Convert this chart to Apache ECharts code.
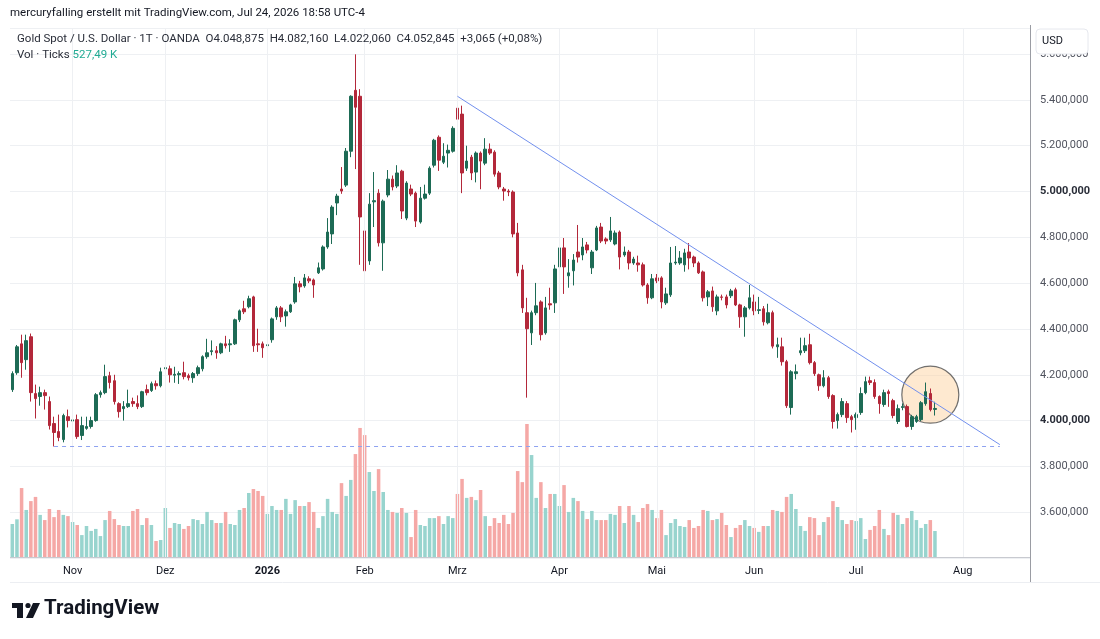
<!DOCTYPE html>
<html>
<head>
<meta charset="utf-8">
<script src="https://cdn.jsdelivr.net/npm/echarts@6/dist/echarts.min.js"></script>
<style>
  html, body { margin: 0; padding: 0; background: #fff; }
  #chart { width: 1100px; height: 639px; }
</style>
</head>
<body>
<div id="chart"></div>
<script>
// daily bars, Oct 15 2025 .. Jul 24 2026 (weekdays, exchange holidays skipped)
const startDate = '2025-10-15'
const slotCount = 220 // 200 bars + empty space to the right
const holidays = ['2025-12-25', '2026-01-01', '2026-04-03']
const monthNames = ['Jan', 'Feb', 'Mrz', 'Apr', 'Mai', 'Jun', 'Jul', 'Aug', 'Sep', 'Okt', 'Nov', 'Dez']

const opens = [
  4135, 4209, 4335, 4266, 4366, 4118, 4105, 4122, 4083, 3987,
  3952, 3917, 4017, 3998, 4004, 3935, 3966, 3974, 4000, 4113,
  4122, 4196, 4174, 4074, 4052, 4061, 4083, 4074, 4061, 4135,
  4131, 4161, 4152, 4226, 4226, 4198, 4200, 4209, 4196, 4187,
  4205, 4226, 4279, 4301, 4305, 4296, 4335, 4331, 4335, 4440,
  4488, 4497, 4540, 4335, 4335, 4327, 4353, 4453, 4492, 4457,
  4475, 4518, 4597, 4588, 4619, 4614, 4645, 4662, 4758, 4815,
  4950, 5011, 5028, 5176, 5442, 5416, 4828, 4697, 4955, 4993,
  4776, 4985, 5054, 5024, 5089, 4884, 5011, 4993, 4867, 4971,
  4993, 5115, 5237, 5128, 5168, 5176, 5364, 5338, 5102, 5150,
  5085, 5168, 5124, 5185, 5172, 5081, 5011, 5002, 4998, 4819,
  4658, 4471, 4383, 4471, 4518, 4383, 4510, 4514, 4671, 4754,
  4632, 4654, 4736, 4723, 4767, 4667, 4745, 4845, 4793, 4789,
  4771, 4823, 4723, 4736, 4688, 4688, 4680, 4592, 4536, 4623,
  4623, 4514, 4549, 4688, 4688, 4680, 4736, 4714, 4688, 4649,
  4540, 4566, 4479, 4540, 4540, 4545, 4571, 4505, 4453, 4492,
  4518, 4481, 4488, 4427, 4471, 4322, 4322, 4257, 4057, 4205,
  4296, 4305, 4331, 4253, 4200, 4152, 4187, 4109, 4000, 4026,
  4074, 4017, 4013, 4035, 4122, 4174, 4166, 4105, 4070, 4126,
  4087, 3996, 4057, 4061, 3974, 3996, 4004, 4074, 4118, 4048.875
]
const closes = [
  4205, 4322, 4253, 4349, 4122, 4096, 4122, 4109, 3978, 3948,
  3926, 4022, 4000, 4003, 3930, 3978, 3974, 4000, 4113, 4122,
  4192, 4166, 4083, 4039, 4061, 4074, 4074, 4061, 4126, 4122,
  4161, 4152, 4213, 4231, 4200, 4202, 4205, 4192, 4187, 4205,
  4231, 4279, 4296, 4305, 4296, 4335, 4327, 4335, 4440, 4479,
  4475, 4532, 4327, 4331, 4318, 4331, 4444, 4492, 4453, 4475,
  4505, 4597, 4584, 4623, 4610, 4592, 4667, 4758, 4823, 4932,
  4980, 5002, 5176, 5416, 5368, 4889, 4654, 4945, 4960, 4776,
  4958, 5054, 5020, 5081, 4915, 5037, 4989, 4871, 4971, 4989,
  5102, 5224, 5137, 5154, 5180, 5276, 5316, 5081, 5133, 5081,
  5168, 5133, 5185, 5168, 5076, 5020, 5002, 4998, 4815, 4645,
  4492, 4401, 4471, 4501, 4375, 4492, 4505, 4662, 4754, 4671,
  4645, 4701, 4714, 4758, 4745, 4736, 4841, 4784, 4784, 4828,
  4819, 4714, 4736, 4688, 4705, 4680, 4592, 4536, 4619, 4610,
  4518, 4553, 4688, 4692, 4710, 4732, 4710, 4688, 4645, 4536,
  4562, 4497, 4540, 4538, 4505, 4566, 4505, 4453, 4492, 4536,
  4479, 4484, 4431, 4471, 4325, 4331, 4257, 4065, 4213, 4213,
  4305, 4327, 4253, 4205, 4152, 4187, 4105, 3996, 4026, 4083,
  4013, 4004, 4026, 4118, 4170, 4166, 4105, 4074, 4122, 4118,
  4022, 4052, 4061, 3974, 4017, 4017, 4078, 4126, 4048, 4052.845
]
const lows = [
  4125, 4200, 4187, 4222, 4083, 4009, 4065, 4048, 3961, 3887,
  3910, 3905, 3970, 3961, 3920, 3915, 3960, 3965, 3995, 4100,
  4115, 4140, 4070, 4013, 4000, 4055, 4060, 4050, 4055, 4110,
  4125, 4135, 4145, 4205, 4166, 4165, 4160, 4180, 4175, 4165,
  4195, 4215, 4270, 4285, 4270, 4290, 4315, 4300, 4330, 4430,
  4465, 4490, 4300, 4300, 4274, 4315, 4340, 4440, 4430, 4410,
  4470, 4510, 4560, 4580, 4600, 4536, 4640, 4655, 4750, 4771,
  4897, 4990, 5020, 5150, 5098, 4680, 4405, 4680, 4845, 4760,
  4654, 4975, 5005, 5015, 4880, 4875, 4980, 4845, 4860, 4965,
  4985, 5105, 5090, 5120, 5105, 5170, 5290, 4993, 5090, 5050,
  5040, 5010, 5115, 5160, 5065, 5010, 4960, 4980, 4800, 4630,
  4470, 4100, 4330, 4460, 4350, 4375, 4484, 4470, 4665, 4553,
  4580, 4590, 4690, 4700, 4730, 4640, 4740, 4775, 4770, 4780,
  4765, 4660, 4715, 4660, 4680, 4650, 4585, 4510, 4530, 4600,
  4490, 4505, 4540, 4680, 4680, 4650, 4660, 4670, 4640, 4520,
  4500, 4475, 4460, 4525, 4490, 4535, 4500, 4405, 4366, 4485,
  4460, 4465, 4415, 4420, 4315, 4274, 4240, 4055, 4026, 4180,
  4285, 4295, 4245, 4195, 4130, 4145, 4095, 3965, 3965, 4015,
  3990, 3948, 3960, 4025, 4115, 4155, 4095, 4030, 4060, 4060,
  4010, 3985, 4045, 3970, 3960, 3990, 3998, 4065, 4040, 4022.06
]
const highs = [
  4215, 4330, 4375, 4375, 4380, 4157, 4148, 4135, 4105, 4017,
  4026, 4030, 4048, 4039, 4026, 4017, 4017, 4017, 4120, 4131,
  4244, 4213, 4200, 4080, 4085, 4135, 4100, 4110, 4130, 4157,
  4170, 4175, 4231, 4266, 4240, 4235, 4215, 4257, 4205, 4212,
  4240, 4285, 4357, 4350, 4325, 4340, 4370, 4355, 4445, 4485,
  4523, 4545, 4545, 4401, 4345, 4401, 4450, 4500, 4500, 4485,
  4510, 4627, 4610, 4640, 4630, 4620, 4690, 4765, 4884, 4940,
  4990, 5107, 5190, 5420, 5599, 5447, 4884, 4993, 5085, 5010,
  4965, 5094, 5070, 5115, 5095, 5045, 5030, 5000, 5020, 5030,
  5110, 5230, 5245, 5211, 5205, 5285, 5416, 5375, 5200, 5160,
  5175, 5175, 5233, 5210, 5180, 5090, 5020, 5010, 5005, 4863,
  4680, 4536, 4480, 4601, 4525, 4540, 4580, 4680, 4789, 4797,
  4705, 4727, 4854, 4797, 4780, 4745, 4850, 4863, 4800, 4889,
  4830, 4830, 4760, 4745, 4715, 4720, 4690, 4600, 4640, 4640,
  4630, 4580, 4758, 4762, 4740, 4750, 4775, 4720, 4695, 4655,
  4570, 4585, 4550, 4550, 4550, 4575, 4580, 4510, 4500, 4592,
  4550, 4540, 4500, 4510, 4480, 4362, 4362, 4265, 4220, 4245,
  4362, 4362, 4379, 4260, 4205, 4220, 4195, 4115, 4035, 4098,
  4085, 4025, 4035, 4145, 4192, 4192, 4180, 4110, 4135, 4135,
  4095, 4070, 4075, 4070, 4025, 4025, 4085, 4166, 4140, 4082.16
]
// tick volume, thousands
const volumes = [
  670, 765, 1400, 955, 1135, 1220, 855, 750, 975, 810,
  955, 855, 830, 710, 650, 445, 630, 530, 570, 425,
  750, 935, 770, 650, 630, 630, 935, 975, 650, 790,
  650, 325, 345, 995, 590, 690, 670, 570, 630, 770,
  750, 670, 915, 750, 690, 690, 915, 670, 650, 955,
  995, 1300, 1380, 1340, 1240, 875, 1035, 955, 955, 1180,
  875, 1155, 1035, 1035, 1115, 915, 590, 830, 1180, 915,
  875, 1500, 1240, 1565, 2090, 2620, 2475, 1725, 1340, 1785,
  1320, 955, 915, 895, 995, 895, 405, 955, 650, 630,
  790, 790, 830, 670, 830, 790, 1280, 1585, 1200, 1220,
  1155, 1360, 830, 630, 790, 690, 855, 670, 895, 1745,
  1520, 2700, 2070, 1200, 1520, 995, 1280, 1280, 1035, 1460,
  915, 1200, 1135, 935, 770, 935, 750, 750, 750, 875,
  855, 1035, 690, 1035, 855, 710, 995, 1075, 955, 790,
  955, 445, 690, 770, 630, 610, 750, 590, 630, 955,
  935, 750, 770, 895, 650, 405, 590, 650, 750, 630,
  590, 510, 630, 630, 955, 935, 915, 1220, 1280, 975,
  630, 530, 810, 790, 445, 710, 810, 1135, 1015, 750,
  670, 750, 730, 790, 365, 550, 630, 955, 570, 445,
  895, 855, 670, 790, 935, 750, 590, 670, 750, 527.49
]

// drawings: bar index + price
const trendStart = [96, 5416]
const trendEnd = [213, 3895]
const supportStart = [9, 3889]
const supportEnd = [213, 3889]
const circleAt = [198, 4113]

const UP = '#1d6b55'
const DOWN = '#b3283a'
const VOL_UP = '#98d4ce'
const VOL_DOWN = '#f5a8a6'
const FONT = 'Roboto, "Open Sans", sans-serif'

function buildDates() {
  const out = []
  const d = new Date(startDate + 'T12:00:00Z')
  while (out.length < slotCount) {
    const day = d.getUTCDay()
    const iso = d.toISOString().slice(0, 10)
    if (day !== 0 && day !== 6 && !holidays.includes(iso)) out.push(iso)
    d.setUTCDate(d.getUTCDate() + 1)
  }
  return out
}

const dates = buildDates()
const isMonthStart = (i) => i > 0 && dates[i].slice(5, 7) !== dates[i - 1].slice(5, 7)
const monthStarts = dates.filter((d, i) => isMonthStart(i))

function fmtPrice(v) {
  const th = Math.floor(v / 1000)
  const rest = Math.round(v % 1000)
  return th + '.' + String(rest).padStart(3, '0') + ',000'
}

const candles = opens.map((o, i) => [o, closes[i], lows[i], highs[i]])
const volBars = volumes.map((v, i) => ({
  value: v,
  itemStyle: { color: closes[i] >= opens[i] ? VOL_UP : VOL_DOWN },
}))

const chart = echarts.init(document.getElementById('chart'))

chart.setOption({
  animation: false,
  backgroundColor: '#ffffff',
  textStyle: { fontFamily: FONT },
  grid: [
    { left: 10, right: 70, top: 28, bottom: 81 },
    { left: 10, right: 70, top: 28, bottom: 82 },
  ],
  xAxis: [
    {
      type: 'category',
      gridIndex: 0,
      data: dates,
      boundaryGap: true,
      axisLine: { show: false },
      axisTick: { show: false },
      splitLine: { show: false },
      axisLabel: {
        interval: (i) => isMonthStart(i),
        margin: 8,
        fontSize: 11,
        color: '#131722',
        formatter: (value) => {
          const m = +value.slice(5, 7)
          return m === 1 ? '{y|' + value.slice(0, 4) + '}' : monthNames[m - 1]
        },
        rich: { y: { fontWeight: 'bold', fontSize: 11, color: '#131722' } },
      },
    },
    { type: 'category', gridIndex: 1, data: dates, boundaryGap: true, show: false },
  ],
  yAxis: [
    {
      type: 'value',
      gridIndex: 0,
      position: 'right',
      min: 3400,
      max: 5714,
      interval: 200,
      axisLine: { show: false },
      axisTick: { show: false },
      splitLine: { lineStyle: { color: '#eef0f3', width: 1 } },
      axisLabel: {
        showMinLabel: false,
        showMaxLabel: false,
        margin: 10,
        fontSize: 11,
        color: '#50535e',
        formatter: (v) => (v % 1000 === 0 ? '{b|' + fmtPrice(v) + '}' : fmtPrice(v)),
        rich: { b: { fontWeight: 'bold', fontSize: 11, color: '#2a2e39' } },
      },
    },
    { type: 'value', gridIndex: 1, min: 0, max: 10740, show: false },
  ],
  series: [
    {
      // month grid lines
      type: 'line',
      xAxisIndex: 0,
      yAxisIndex: 0,
      data: [],
      silent: true,
      markLine: {
        silent: true,
        symbol: 'none',
        label: { show: false },
        lineStyle: { color: '#eef0f3', type: 'solid', width: 1 },
        data: monthStarts.map((d) => ({ xAxis: d })),
      },
      z: 0,
    },
    {
      name: 'Vol',
      type: 'bar',
      xAxisIndex: 1,
      yAxisIndex: 1,
      data: volBars,
      barWidth: '76%',
      z: 1,
    },
    {
      type: 'scatter',
      xAxisIndex: 0,
      yAxisIndex: 0,
      data: [[dates[circleAt[0]], circleAt[1]]],
      symbol: 'circle',
      symbolSize: 57,
      silent: true,
      itemStyle: { color: 'rgba(252,208,156,0.6)', borderColor: '#4d4d4d', borderWidth: 1.2 },
      z: 2,
    },
    {
      name: 'Gold',
      type: 'candlestick',
      xAxisIndex: 0,
      yAxisIndex: 0,
      data: candles,
      barWidth: 3,
      itemStyle: {
        color: UP,
        color0: DOWN,
        borderColor: UP,
        borderColor0: DOWN,
        borderWidth: 1,
      },
      markLine: {
        silent: true,
        symbol: 'none',
        label: { show: false },
        data: [
          [
            { coord: [dates[trendStart[0]], trendStart[1]], lineStyle: { color: '#7290ee', width: 1, type: 'solid' } },
            { coord: [dates[trendEnd[0]], trendEnd[1]] },
          ],
          [
            { coord: [dates[supportStart[0]], supportStart[1]], lineStyle: { color: '#8ea2f0', width: 1, type: [4, 4] } },
            { coord: [dates[supportEnd[0]], supportEnd[1]] },
          ],
        ],
      },
      z: 3,
    },
  ],
  graphic: [
    {
      type: 'text', left: 10, top: 7, z: 100,
      style: { text: 'mercuryfalling erstellt mit TradingView.com, Jul 24, 2026 18:58 UTC-4', fontSize: 11.5, fill: '#131722', fontFamily: FONT },
    },
    {
      type: 'text', left: 17, top: 33, z: 100,
      style: {
        text: 'Gold Spot / U.S. Dollar · 1T · OANDA  O4.048,875  H4.082,160  L4.022,060  C4.052,845  +3,065 (+0,08%)',
        fontSize: 11.5, fill: '#2a2e39', fontFamily: FONT,
      },
    },
    {
      type: 'text', left: 17, top: 49, z: 100,
      style: {
        text: '{a|Vol · Ticks} {b|527,49 K}',
        fontFamily: FONT,
        rich: { a: { fontSize: 11.5, fill: '#2a2e39', fontFamily: FONT }, b: { fontSize: 11.5, fill: '#22ab94', fontFamily: FONT } },
      },
    },
    {
      type: 'rect', z: 100,
      shape: { x: 1036, y: 29, width: 52, height: 25, r: 4 },
      style: { fill: '#ffffff', stroke: '#e6e8ee', lineWidth: 1 },
    },
    {
      type: 'text', left: 1042, top: 36, z: 101,
      style: { text: 'USD', fontSize: 11, fill: '#131722', fontFamily: FONT },
    },
    {
      type: 'line', z: 100,
      shape: { x1: 1030.5, y1: 25, x2: 1030.5, y2: 583 },
      style: { stroke: '#9a9ca3', lineWidth: 1 },
    },
    {
      type: 'line', z: 100,
      shape: { x1: 10, y1: 557.5, x2: 1030, y2: 557.5 },
      style: { stroke: '#c8cad0', lineWidth: 1 },
    },
    {
      type: 'line', z: 100,
      shape: { x1: 10, y1: 582.5, x2: 1100, y2: 582.5 },
      style: { stroke: '#eceef2', lineWidth: 1 },
    },
    // TradingView logo
    { type: 'rect', z: 100, shape: { x: 12, y: 603, width: 11, height: 5 }, style: { fill: '#131722' } },
    { type: 'rect', z: 100, shape: { x: 17, y: 603, width: 6, height: 15 }, style: { fill: '#131722' } },
    { type: 'circle', z: 100, shape: { cx: 28, cy: 605.5, r: 2.6 }, style: { fill: '#131722' } },
    { type: 'polygon', z: 100, shape: { points: [[33, 603], [40, 603], [33, 618], [26, 618]] }, style: { fill: '#131722' } },
    {
      type: 'text', left: 44, top: 598, z: 100,
      style: { text: 'TradingView', fontSize: 20.5, fontWeight: 'bold', fill: '#131722', fontFamily: FONT },
    },
  ],
})

window.addEventListener('resize', () => chart.resize())
</script>
</body>
</html>
